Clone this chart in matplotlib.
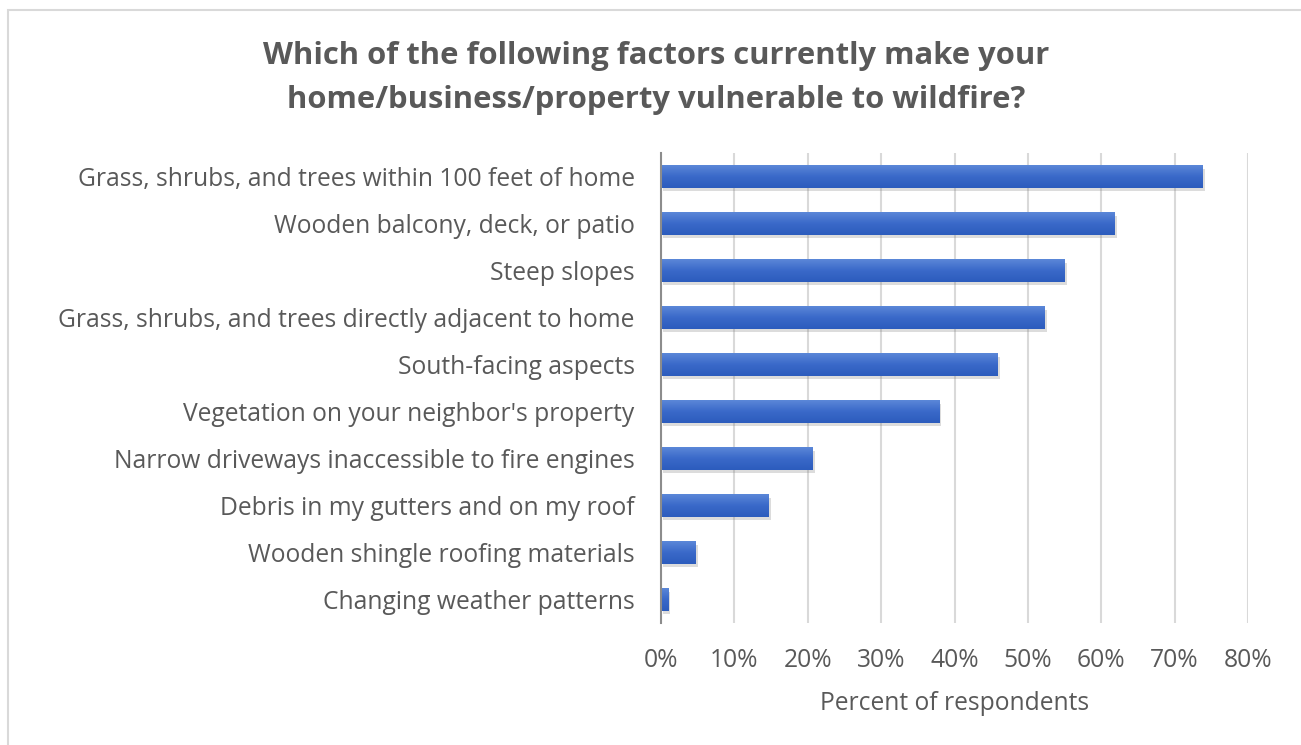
import numpy as np
import matplotlib
matplotlib.use("Agg")
import matplotlib.pyplot as plt
from matplotlib import patheffects
from matplotlib.colors import LinearSegmentedColormap
from matplotlib.patches import Rectangle
from matplotlib.ticker import PercentFormatter

# survey answers, top to bottom
factors = [
    "Grass, shrubs, and trees within 100 feet of home",
    "Wooden balcony, deck, or patio",
    "Steep slopes",
    "Grass, shrubs, and trees directly adjacent to home",
    "South-facing aspects",
    "Vegetation on your neighbor's property",
    "Narrow driveways inaccessible to fire engines",
    "Debris in my gutters and on my roof",
    "Wooden shingle roofing materials",
    "Changing weather patterns",
]
percent = [73.8, 61.8, 55.0, 52.3, 45.9, 37.9, 20.7, 14.7, 4.7, 1.0]
xticks = [0, 10, 20, 30, 40, 50, 60, 70, 80]

title = ("Which of the following factors currently make your\n"
         "home/business/property vulnerable to wildfire?")
xlabel = "Percent of respondents"

plt.rcParams['font.family'] = ['Open Sans', 'DejaVu Sans']
grey = '#595959'

fig = plt.figure(figsize=(13.01, 7.45), dpi=100)
ax = fig.add_axes([661 / 1301, 122 / 745, (1248 - 661) / 1301, 470 / 745])

pos = np.arange(len(factors))
bars = ax.barh(pos, percent, height=0.47, color='#3a68c8', zorder=2)

# bar shading: lighter top, darker bottom, with a soft drop shadow
cmap = LinearSegmentedColormap.from_list('bar', ['#5b87d8', '#3a69c9', '#2c5cbd'])
grad = np.linspace(0, 1, 64).reshape(-1, 1)
for b in bars:
    b.set_path_effects([patheffects.SimplePatchShadow(offset=(1.5, -2.5), shadow_rgbFace='#777777', alpha=0.25),
                        patheffects.Normal()])
    x0, y0 = b.get_x(), b.get_y()
    w, h = b.get_width(), b.get_height()
    im = ax.imshow(grad, cmap=cmap, aspect='auto', origin='upper',
                   extent=(x0, x0 + w, y0 + h, y0), zorder=3, interpolation='bilinear')
    im.set_clip_path(b)

ax.set_xlim(0, 80)
ax.set_ylim(len(factors) - 0.5, -0.5)
ax.set_xticks(xticks)
ax.xaxis.set_major_formatter(PercentFormatter(decimals=0))
ax.set_yticks(pos)
ax.set_yticklabels(factors)

ax.grid(axis='x', color='#d9d9d9', linewidth=1.5, zorder=0)
ax.set_axisbelow(True)
for s in ['top', 'right', 'bottom']:
    ax.spines[s].set_visible(False)
ax.spines['left'].set_color('#8c8c8c')
ax.spines['left'].set_linewidth(1.5)
ax.spines['left'].set_zorder(4)

ax.tick_params(axis='both', length=0, labelcolor=grey, labelsize=17.7)
ax.tick_params(axis='y', pad=19)
ax.tick_params(axis='x', pad=18)
ax.set_xlabel(xlabel, color=grey, fontsize=17.7, labelpad=13)

fig.text(0.504, 1 - 78 / 745, title, ha='center', va='center', fontsize=22.3,
         fontweight='bold', color=grey, linespacing=1.58)

# light frame around the chart area
fig.patches.append(Rectangle((8 / 1301, -0.05), 1.2, 1.05 - 10 / 745, fill=False,
                             edgecolor='#d9d9d9', linewidth=1.5, transform=fig.transFigure))

fig.savefig('out.png', dpi=100)
